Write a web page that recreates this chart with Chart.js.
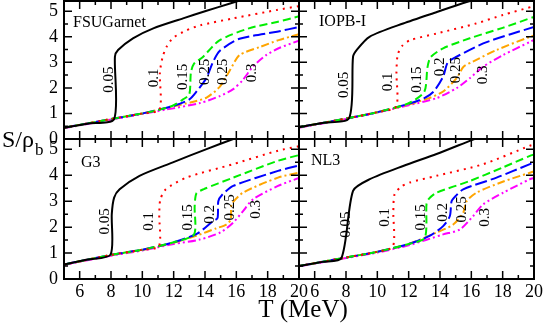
<!DOCTYPE html>
<html lang="en">
<head>
<meta charset="UTF-8">
<title>S/rho_b vs T</title>
<script src="https://cdn.jsdelivr.net/npm/chart.js@4.4.0/dist/chart.umd.min.js"></script>
<style>
  body { margin: 0; background: #fff; }
  #wrap { position: relative; width: 545px; height: 327px; }
  #wrap canvas { position: absolute; left: 0; top: 0; }
</style>
</head>
<body>
<div id="wrap">
  <canvas id="c0" width="545" height="327"></canvas>
  <canvas id="c1" width="545" height="327"></canvas>
  <canvas id="c2" width="545" height="327"></canvas>
  <canvas id="c3" width="545" height="327"></canvas>
</div>
<script>
// densities (fm^-3) for each curve
const densities = ['0.05', '0.1', '0.15', '0.2', '0.25', '0.3'];
const xTicks = [6, 8, 10, 12, 14, 16, 18, 20];
const yTicks = [0, 1, 2, 3, 4, 5];

// FSUGarnet  [T (MeV), S/rho_b]
const FSU_005 = [[5,0.44],[6.5,0.6],[8.2,0.78],[8.25,3.22],[8.45,3.48],[9.4,3.94],[10.7,4.33],[12.6,4.72],[14,5.0],[15.6,5.3],[16.6,5.5]];
const FSU_010 = [[5,0.44],[8,0.78],[10,1.0],[11.1,1.15],[11.12,2.6],[11.3,3.22],[11.55,3.61],[11.95,3.95],[12.8,4.25],[13.7,4.45],[15.8,4.72],[18.6,5.05],[20,5.2]];
const FSU_015 = [[5,0.44],[8,0.78],[10,1.0],[11,1.13],[12,1.32],[12.6,1.55],[13.0,1.75],[13.1,2.6],[13.3,2.95],[13.85,3.2],[14.9,3.85],[16.8,4.33],[18.6,4.58],[20,4.8]];
const FSU_020 = [[5,0.44],[8,0.78],[10,1.0],[12,1.3],[13,1.55],[13.45,1.85],[14.1,2.4],[14.5,3.0],[14.95,3.45],[16.2,3.92],[18.6,4.2],[20,4.38]];
const FSU_025 = [[5,0.44],[8,0.78],[10,1.0],[12,1.28],[13.2,1.45],[14.1,1.62],[14.95,2.05],[15.6,2.7],[16.2,3.28],[17.5,3.6],[18.7,3.87],[20,4.1]];
const FSU_030 = [[5,0.42],[8,0.76],[10,0.98],[11.5,1.15],[13.7,1.41],[14.95,1.68],[15.8,1.95],[16.4,2.3],[17.06,2.83],[17.9,3.28],[18.7,3.55],[20,3.85]];

// IOPB-I
const IOPB_005 = [[5,0.46],[6.5,0.63],[8.2,0.82],[8.45,3.22],[8.7,3.5],[9.5,4.0],[11.65,4.52],[13.8,4.97],[15.7,5.36],[16.5,5.5]];
const IOPB_010 = [[5,0.46],[8,0.8],[10,1.05],[11.2,1.27],[11.22,2.6],[11.3,3.3],[11.6,3.65],[12.1,3.87],[13.8,4.13],[16.3,4.52],[18,4.85],[20,5.2]];
const IOPB_015 = [[5,0.46],[8,0.8],[10,1.05],[12,1.4],[13.0,1.85],[13.2,2.8],[13.4,3.2],[14.2,3.55],[15.9,3.94],[18,4.35],[20,4.78]];
const IOPB_020 = [[5,0.46],[8,0.8],[10,1.05],[12,1.38],[13.0,1.6],[13.6,1.86],[14.2,2.44],[14.5,3.0],[15.06,3.22],[16.76,3.74],[18.5,4.1],[20,4.38]];
const IOPB_025 = [[5,0.46],[8,0.8],[10,1.05],[12,1.35],[13.3,1.6],[14.2,1.86],[15.06,2.38],[15.5,2.83],[16.1,3.03],[17.6,3.48],[19.74,4.0],[20,4.05]];
const IOPB_030 = [[5,0.44],[8,0.78],[10.16,1.06],[12,1.32],[13.78,1.6],[15.06,1.99],[15.9,2.38],[16.76,2.83],[18.04,3.29],[19.74,3.8],[20,3.88]];

// G3
const G3_005 = [[5,0.56],[6.5,0.75],[7.97,0.94],[8.05,2.5],[8.2,3.14],[8.55,3.46],[9.82,3.98],[11.95,4.5],[14.1,5.01],[15.8,5.4],[16.5,5.55]];
const G3_010 = [[5,0.56],[8,0.93],[10,1.13],[11.06,1.26],[11.08,2.5],[11.15,3.07],[11.5,3.46],[12.8,3.91],[15.8,4.43],[18.66,4.95],[20,5.12]];
const G3_015 = [[5,0.56],[8,0.93],[10,1.13],[12,1.42],[13.3,1.72],[13.34,2.8],[13.45,3.3],[13.9,3.46],[15.8,3.91],[18.66,4.56],[20,4.78]];
const G3_020 = [[5,0.56],[8,0.93],[10,1.13],[12,1.42],[13.5,1.75],[14.5,2.23],[14.8,2.35],[14.85,3.0],[15.1,3.25],[15.8,3.59],[18.66,4.17],[20,4.38]];
const G3_025 = [[5,0.55],[8,0.92],[10,1.12],[12,1.4],[13.5,1.68],[14.7,1.95],[15.36,2.1],[15.65,2.3],[15.7,2.88],[16.43,3.33],[18.66,3.91],[20,4.1]];
const G3_030 = [[5,0.54],[8,0.9],[10,1.1],[12,1.35],[13.66,1.52],[15,1.8],[15.79,2.17],[16.43,2.62],[17.06,3.07],[18.66,3.59],[20,3.9]];

// NL3
const NL3_005 = [[5,0.5],[6.5,0.66],[7.71,0.81],[8.45,3.4],[9.52,3.85],[11.65,4.36],[13.78,4.82],[15.9,5.33],[16.5,5.47]];
const NL3_010 = [[5,0.5],[8,0.83],[10,1.05],[11.0,1.26],[11.02,2.6],[11.1,3.27],[11.5,3.55],[12.07,3.72],[13.78,3.98],[16.76,4.43],[19.74,5.14],[20,5.18]];
const NL3_015 = [[5,0.5],[8,0.83],[10,1.05],[12,1.35],[13.03,1.59],[13.14,2.9],[13.3,3.1],[13.78,3.33],[15.9,3.78],[18,4.3],[19.74,4.75],[20,4.8]];
const NL3_020 = [[5,0.5],[8,0.83],[10,1.05],[12,1.35],[13.3,1.65],[14.2,2.04],[14.63,2.43],[14.74,3.0],[15.0,3.2],[15.48,3.46],[17.61,3.91],[19.74,4.43],[20,4.48]];
const NL3_025 = [[5,0.5],[8,0.83],[10,1.05],[12,1.35],[13.8,1.8],[14.84,2.1],[15.48,2.56],[15.7,3.0],[16.33,3.33],[18,3.75],[19.74,4.1],[20,4.15]];
const NL3_030 = [[5,0.49],[8,0.81],[10,1.02],[12,1.3],[14.2,1.72],[15.27,1.91],[16.12,2.43],[16.76,2.88],[18.04,3.33],[19.74,3.85],[20,3.9]];

// curve annotations (text as printed, and where it sits in T,S)
const FSU_TEXT = ['0.05', '0.1', '0.15', '0.25', '0.25', '0.3'];
const FSU_AT = [[7.9,2.32],[10.78,2.39],[12.57,2.43],[13.98,2.63],[15.13,2.63],[16.98,2.59]];
const IOPB_AT = [[7.86,2.12],[10.67,2.24],[12.52,2.32],[13.99,2.82],[15.01,2.7],[16.74,2.51]];
const G3_AT = [[7.59,2.22],[10.46,2.22],[12.89,2.38],[14.3,2.49],[15.58,2.76],[17.24,2.69]];
const NL3_AT = [[7.98,2.1],[10.48,2.38],[12.78,2.38],[14.18,2.57],[15.4,2.69],[16.87,2.38]];

const styles = [
  { color: '#000000', dash: [] },
  { color: '#ff0000', dash: [2, 5] },
  { color: '#00ee00', dash: [8, 4] },
  { color: '#0000ff', dash: [12, 4] },
  { color: '#ffa500', dash: [8, 3, 2, 3] },
  { color: '#ff00ff', dash: [8, 3, 2, 3, 2, 3] }
];

const W = 545, H = 327;
const panels = [
  { id: 'c0', name: 'FSUGarnet', nameAt: [9, 26], curves: [FSU_005, FSU_010, FSU_015, FSU_020, FSU_025, FSU_030],
    text: FSU_TEXT, at: FSU_AT, box: { left: 64, right: 299, top: 1, bottom: 139 }, yLab: true, xLab: false },
  { id: 'c1', name: 'IOPB-I', nameAt: [20, 25], curves: [IOPB_005, IOPB_010, IOPB_015, IOPB_020, IOPB_025, IOPB_030],
    text: densities, at: IOPB_AT, box: { left: 299, right: 534, top: 1, bottom: 139 }, yLab: false, xLab: false },
  { id: 'c2', name: 'G3', nameAt: [17, 28], curves: [G3_005, G3_010, G3_015, G3_020, G3_025, G3_030],
    text: densities, at: G3_AT, box: { left: 64, right: 299, top: 139, bottom: 279 }, yLab: true, xLab: true, titles: true },
  { id: 'c3', name: 'NL3', nameAt: [12, 26], curves: [NL3_005, NL3_010, NL3_015, NL3_020, NL3_025, NL3_030],
    text: densities, at: NL3_AT, box: { left: 299, right: 534, top: 139, bottom: 279 }, yLab: false, xLab: true }
];

const SERIF = '"Liberation Serif", "DejaVu Serif", serif';

// frame, inward ticks, x tick labels, panel name and curve labels
const panelDeco = {
  id: 'panelDeco',
  afterDatasetsDraw(chart, args, opts) {
    const p = opts.panel;
    const { ctx, chartArea: a } = chart;
    const x = chart.scales.x, y = chart.scales.y;
    ctx.save();
    ctx.strokeStyle = '#000';
    ctx.lineWidth = 1.5;
    ctx.beginPath();
    for (let t = 6; t < 20; t++) {
      const px = x.getPixelForValue(t);
      const len = t % 2 === 0 ? 8 : 4;
      ctx.moveTo(px, a.bottom); ctx.lineTo(px, a.bottom - len);
      ctx.moveTo(px, a.top); ctx.lineTo(px, a.top + len);
    }
    for (let k = 1; k <= 10; k++) {
      const py = y.getPixelForValue(k / 2);
      const len = k % 2 === 0 ? 8 : 4;
      ctx.moveTo(a.left, py); ctx.lineTo(a.left + len, py);
      ctx.moveTo(a.right, py); ctx.lineTo(a.right - len, py);
    }
    ctx.stroke();
    ctx.lineWidth = 2;
    ctx.strokeRect(a.left, a.top, a.right - a.left, a.bottom - a.top);

    ctx.fillStyle = '#000';

    // T tick labels under the bottom row, placed by the x scale
    if (p.xLab) {
      ctx.font = '18px ' + SERIF;
      ctx.textAlign = 'center';
      ctx.textBaseline = 'top';
      xTicks.forEach(v => ctx.fillText(String(v), x.getPixelForValue(v), a.bottom + 4));
    }

    ctx.font = '16px ' + SERIF;
    ctx.textAlign = 'left';
    ctx.textBaseline = 'alphabetic';
    ctx.fillText(p.name, a.left + p.nameAt[0], a.top + p.nameAt[1]);

    ctx.font = '15px ' + SERIF;
    ctx.textAlign = 'center';
    ctx.textBaseline = 'middle';
    p.at.forEach((pt, i) => {
      ctx.save();
      ctx.translate(x.getPixelForValue(pt[0]), y.getPixelForValue(pt[1]));
      ctx.rotate(-Math.PI / 2);
      ctx.fillText(p.text[i], 0, 0);
      ctx.restore();
    });

    // shared axis titles
    if (p.titles) {
      ctx.textBaseline = 'alphabetic';
      ctx.textAlign = 'center';
      ctx.font = '25px ' + SERIF;
      ctx.fillText('T (MeV)', 303, 317);
      ctx.textAlign = 'left';
      ctx.font = '24px ' + SERIF;
      ctx.fillText('S/\u03c1', 2, 147);
      const w = ctx.measureText('S/\u03c1').width;
      ctx.font = '17px ' + SERIF;
      ctx.fillText('b', 2 + w + 1, 155);
    }
    ctx.restore();
  }
};

panels.forEach(p => {
  const b = p.box;
  const datasets = p.curves.map((c, i) => ({
    label: densities[i],
    data: c.map(d => ({ x: d[0], y: d[1] })),
    borderColor: styles[i].color,
    borderDash: styles[i].dash,
    borderWidth: 2,
    pointRadius: 0,
    fill: false,
    tension: 0.25
  }));
  new Chart(document.getElementById(p.id), {
    type: 'line',
    data: { datasets },
    plugins: [panelDeco],
    options: {
      responsive: false,
      animation: false,
      devicePixelRatio: 1,
      layout: {
        padding: {
          left: p.yLab ? 0 : b.left,
          right: W - b.right,
          top: b.top,
          bottom: p.xLab ? 0 : H - b.bottom
        }
      },
      scales: {
        x: {
          type: 'linear',
          min: 5, max: 20,
          display: p.xLab,
          grid: { display: false, drawTicks: false, tickLength: 0 },
          border: { display: false },
          ticks: { display: false, stepSize: 1 },
          afterFit: s => {
            s.height = p.xLab ? H - b.bottom : 0;
            s.paddingLeft = 0; s.paddingRight = 0;
          }
        },
        y: {
          type: 'linear',
          min: 0, max: 5.4,
          display: p.yLab,
          grid: { display: false, drawTicks: false, tickLength: 0 },
          border: { display: false },
          ticks: {
            stepSize: 1,
            autoSkip: false,
            includeBounds: false,
            padding: 6,
            color: '#000',
            font: { family: SERIF, size: 18 },
            callback: v => yTicks.includes(v) ? String(v) : ''
          },
          afterFit: s => {
            s.width = p.yLab ? b.left : 0;
            s.paddingTop = 0; s.paddingBottom = 0;
          }
        }
      },
      plugins: {
        legend: { display: false },
        tooltip: { enabled: false },
        panelDeco: { panel: p }
      }
    }
  });
});
</script>
</body>
</html>
